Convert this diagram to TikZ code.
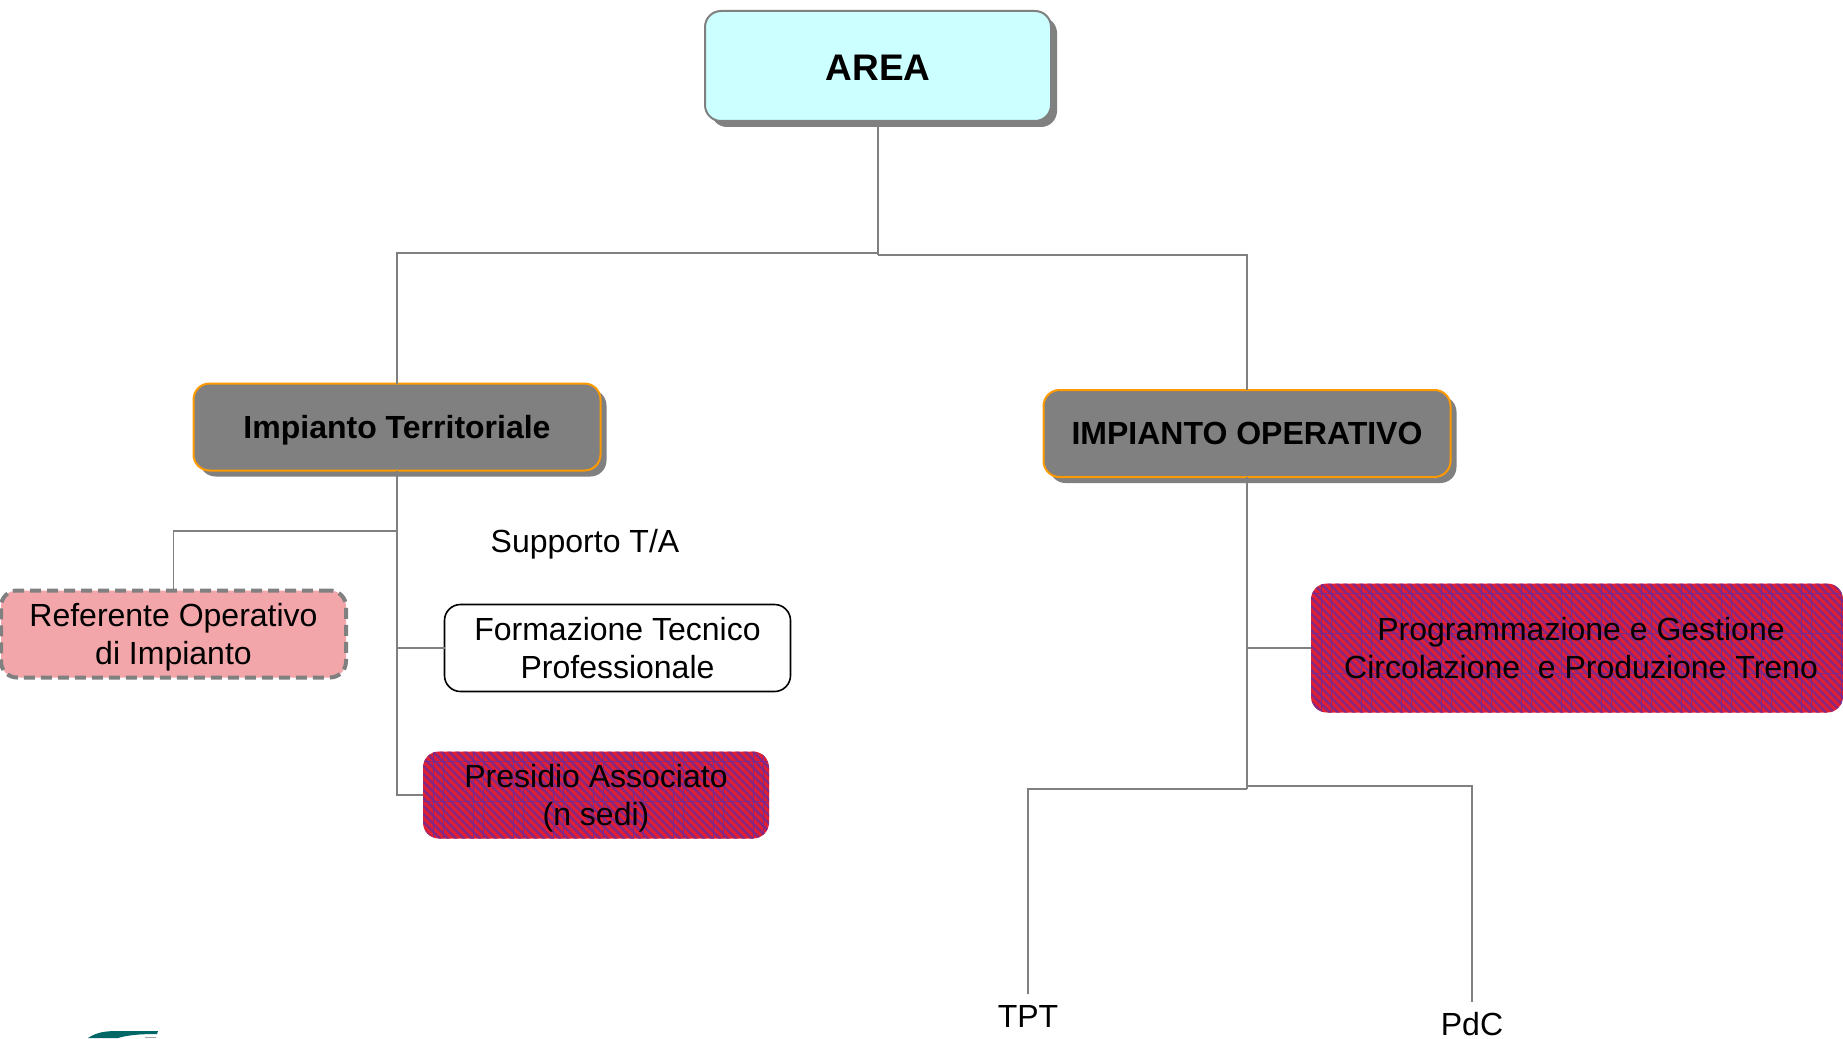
\documentclass[tikz,border=0pt]{standalone}
\usepackage{fontspec}
\setmainfont{Liberation Sans}
\usetikzlibrary{shadows}
\definecolor{areafill}{RGB}{204,255,255}
\definecolor{linegray}{RGB}{128,128,128}
\definecolor{edgeorange}{RGB}{255,153,0}
\definecolor{pinkfill}{RGB}{243,166,170}
\definecolor{logoteal}{RGB}{0,102,102}
\definecolor{hatchred}{RGB}{225,30,50}
\definecolor{hatchpurple}{RGB}{130,40,135}
\begin{document}
\begin{tikzpicture}[x=1pt,y=-1pt,
  every node/.style={inner sep=0pt,outer sep=0pt,align=center,font=\fontsize{32}{38.5}\selectfont},
  link/.style={draw=linegray,line width=1.8pt},
  roundbox/.style={rectangle,rounded corners=16pt,minimum height=87pt,minimum width=346pt},
  headbox/.style={roundbox,line width=2pt,font=\fontsize{32}{38.5}\selectfont\bfseries,drop shadow={shadow xshift=6pt,shadow yshift=-6pt,opacity=1,fill=linegray}},
  sitebox/.style={roundbox,fill=hatchred,path picture={
    \coordinate (nw) at (path picture bounding box.north west);
    \foreach \s in {-136,-128,...,536}
      \draw[hatchpurple,line width=2.2pt] ([xshift=\s pt,yshift=2pt]nw) -- ([xshift=\s pt+134pt,yshift=-132pt]nw);
    \foreach \g in {0,40,...,520}{
      \draw[hatchpurple,line width=0.8pt] ([xshift=\g pt+10pt]nw) -- ([xshift=\g pt+10pt,yshift=-130pt]nw);
      \draw[hatchpurple,line width=0.8pt] ([xshift=\g pt+20pt]nw) -- ([xshift=\g pt+20pt,yshift=-130pt]nw);
    }
    \foreach \g in {0,40,...,120}
      \draw[hatchpurple,line width=0.8pt] ([yshift=-\g pt-10pt]nw) -- ([xshift=540pt,yshift=-\g pt-10pt]nw);}}]
\useasboundingbox (0,0) rectangle (1843,1038);

\node (area) [headbox,draw=linegray,fill=areafill,minimum width=346pt,minimum height=110pt,font=\fontsize{37}{40}\selectfont\bfseries,text height=29pt] at (878,66) {AREA};
\node (territoriale) [headbox,draw=edgeorange,fill=linegray,minimum width=407pt,text depth=0pt] at (397,427) {Impianto Territoriale};
\node (operativo) [headbox,draw=edgeorange,fill=linegray,minimum width=407pt] at (1247,433.5) {IMPIANTO OPERATIVO};
\node (referente) [roundbox,draw=linegray,dash pattern=on 11pt off 6pt,line width=4pt,fill=pinkfill,minimum width=345pt,text depth=0pt] at (173.5,634) {Referente Operativo\\di Impianto};
\node (formazione) [roundbox,draw=black,line width=1.6pt,fill=white] at (617.5,648) {Formazione Tecnico\\Professionale};
\node (presidio) [sitebox,text depth=0pt] at (596,795) {Presidio Associato\\(n sedi)};
\node (programmazione) [sitebox,minimum width=532pt,minimum height=129pt] at (1577,648) {\hspace*{8pt}Programmazione e Gestione\\\hspace*{8pt}Circolazione\ \ e Produzione Treno};
\node (supporto) at (585,544) {Supporto T/A};
\node (tpt) at (1028,1016.5) {TPT};
\node (pdc) at (1472,1024.5) {PdC};

\coordinate (forkl) at (878,253);
\coordinate (forkr) at (878,255);
\coordinate (trunkl) at (397,531);
\coordinate (trunkf) at (397,648);
\coordinate (trunkp) at (397,795);
\coordinate (trunkg) at (1247,648);
\coordinate (forkt) at (1247,789);
\coordinate (forkd) at (1247,786);

\draw[link] (area.south) -- (forkr);
\draw[link] (forkl) -| (territoriale.north);
\draw[link] (forkr) -| (operativo.north);
\draw[link] (territoriale.south) -- (trunkp) -- (presidio.west);
\draw[link] (trunkl) -| (referente.north);
\draw[link] (trunkf) -- (formazione.west);
\draw[link] (operativo.south) -- (forkt);
\draw[link] (trunkg) -- (programmazione.west);
\draw[link] (forkt) -| ([yshift=12pt]tpt.north);
\draw[link] (forkd) -| ([yshift=11pt]pdc.north);

% logo
\fill[logoteal] (88,1038) .. controls (97,1032) and (106,1031) .. (118,1031) -- (158,1031) -- (157,1034) .. controls (140,1034) and (128,1035) .. (118,1038) -- cycle;
\fill[linegray!70] (145,1037) rectangle (156,1038);
\end{tikzpicture}
\end{document}
